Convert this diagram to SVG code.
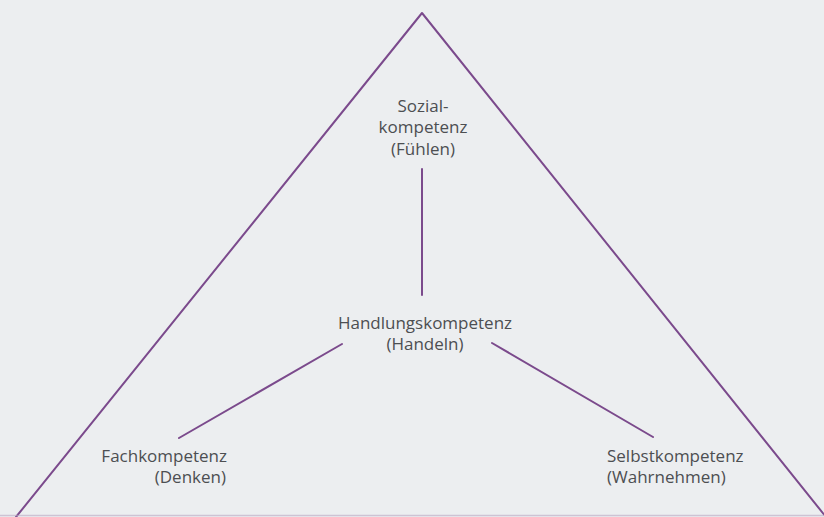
<svg xmlns="http://www.w3.org/2000/svg" width="824" height="517" viewBox="0 0 824 517">
  <style>
    .bg { fill: #eceef0; }
    .ln { stroke: #7b4a8c; stroke-width: 2; fill: none; stroke-linecap: round; stroke-linejoin: round; }
    .t { font-family: "Open Sans", "Noto Sans", sans-serif; font-size: 17px; fill: #4d4f52; }
    .c { text-anchor: middle; }
    .r { text-anchor: end; }
    .l { text-anchor: start; }
  </style>
  <rect class="bg" x="0" y="0" width="824" height="517"/>
  <g id="triangle">
    <polyline class="ln" points="16,517 422,13 826,517"/>
    <line x1="0" y1="515.5" x2="824" y2="515.5" stroke="#b9a8c2" stroke-width="1.5" opacity="0.6"/>
  </g>
  <g id="connectors">
    <line class="ln" x1="422" y1="169" x2="422" y2="295"/>
    <line class="ln" x1="342" y1="344" x2="179" y2="438"/>
    <line class="ln" x1="492" y1="343" x2="653" y2="437"/>
  </g>
  <g id="sozial">
    <text class="t c" x="423" y="112">Sozial-</text>
    <text class="t c" x="423" y="133">kompetenz</text>
    <text class="t c" x="423" y="155">(Fühlen)</text>
  </g>
  <g id="handlung">
    <text class="t c" x="425" y="329">Handlungskompetenz</text>
    <text class="t c" x="425" y="350">(Handeln)</text>
  </g>
  <g id="fach">
    <text class="t r" x="227" y="462">Fachkompetenz</text>
    <text class="t r" x="226" y="483">(Denken)</text>
  </g>
  <g id="selbst">
    <text class="t l" x="607" y="462">Selbstkompetenz</text>
    <text class="t l" x="607" y="483">(Wahrnehmen)</text>
  </g>
</svg>
